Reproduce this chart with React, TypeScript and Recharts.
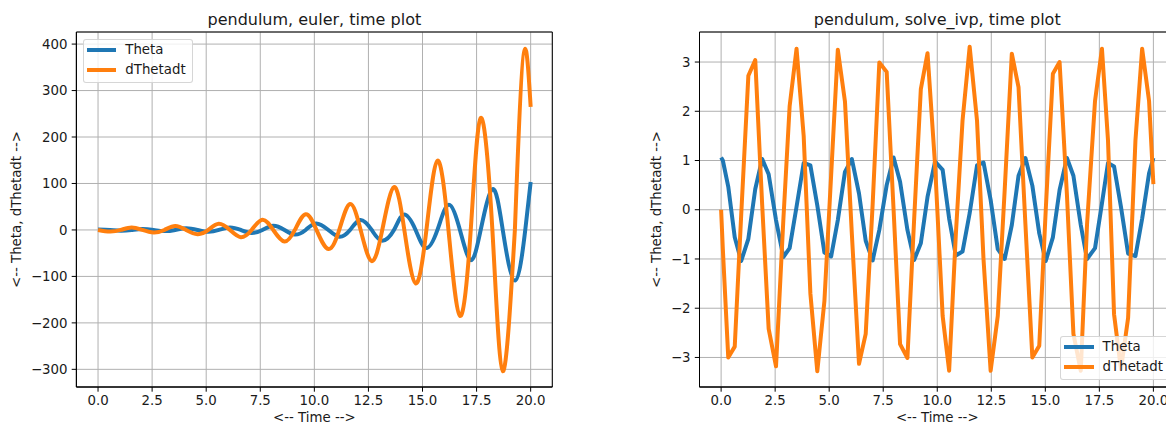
import React from 'react';
import { LineChart, Line, XAxis, YAxis, CartesianGrid, ReferenceArea, Label } from 'recharts';

const BLUE = '#1f77b4';
const ORANGE = '#ff7f0e';
const FONT = '"DejaVu Sans", Verdana, sans-serif';
const TEXT = '#1a1a1a';

// ---------- text ----------
const titles = ['pendulum, euler, time plot', 'pendulum, solve_ivp, time plot'];
const seriesNames = ['Theta', 'dThetadt'];
const xLabel = '<-- Time -->';
const yLabel = '<-- Theta, dThetadt -->';

// ---------- ticks ----------
const xTicks = [0, 2.5, 5, 7.5, 10, 12.5, 15, 17.5, 20];
const eulerYTicks = [-300, -200, -100, 0, 100, 200, 300, 400];
const ivpYTicks = [-3, -2, -1, 0, 1, 2, 3];

// ---------- euler data (extrema and zero crossings) ----------
const eulerThetaT = [0, 0.55, 1.05, 1.55, 2.05, 2.57, 3.07, 3.57, 4.07, 4.6, 5.1, 5.59, 6.1, 6.6, 7.1, 7.6, 8.1, 8.62, 9.1, 9.6, 10.08, 10.65, 11.16, 11.65, 12.13, 12.65, 13.12, 13.68, 14.14, 14.68, 15.16, 15.69, 16.2, 16.73, 17.23, 17.69, 18.24, 18.71, 19.28, 19.75, 20];
const eulerThetaV = [1.05, 0, -1.5, 0, 2.2, 0, -2.5, 0, 3.6, 0, -4, 0, 5.5, 0, -6.5, 0, 9, 0, -10, 0, 14, 0, -14.5, 0, 21.5, 0, -23, 0, 33, 0, -39, 0, 54, 0, -65, 0, 88, 0, -109, 0, 103];
const eulerOmegaT = [0, 0.55, 1.05, 1.55, 2.05, 2.58, 3.07, 3.57, 4.07, 4.6, 5.1, 5.58, 6.1, 6.6, 7.1, 7.6, 8.1, 8.62, 9.1, 9.6, 10.1, 10.65, 11.15, 11.65, 12.14, 12.65, 13.14, 13.68, 14.16, 14.68, 15.18, 15.69, 16.2, 16.73, 17.23, 17.69, 18.23, 18.71, 19.27];
const eulerOmegaV = [0, -3.5, 0, 5.5, 0, -5.5, 0, 8.5, 0, -9, 0, 13.5, 0, -15.5, 0, 22, 0, -25, 0, 34, 0, -41, 0, 56, 0, -67, 0, 92, 0, -115, 0, 149, 0, -185, 0, 241, 0, -304, 0];
// last swing of dThetadt (zero crossing, final peak, end value)
const eulerOmegaEndT = [19.27, 19.75, 20];
const eulerOmegaEndV = [0, 390, 265];

// ---------- solve_ivp data (solver output vertices) ----------
const ivpT = [0, 0.08, 0.33, 0.63, 0.93, 1.26, 1.58, 1.9, 2.2, 2.54, 2.88, 3.17, 3.49, 3.82, 4.13, 4.45, 4.78, 5.09, 5.4, 5.73, 6.05, 6.38, 6.69, 7.01, 7.32, 7.66, 7.98, 8.28, 8.62, 8.93, 9.24, 9.55, 9.9, 10.25, 10.55, 10.86, 11.17, 11.5, 11.84, 12.14, 12.47, 12.8, 13.12, 13.45, 13.76, 14.08, 14.4, 14.72, 15.02, 15.35, 15.66, 16.0, 16.3, 16.64, 16.93, 17.3, 17.62, 17.9, 18.18, 18.5, 18.83, 19.17, 19.48, 19.8, 20.0];
const ivpTheta = [1.06, 1.0, 0.47, -0.56, -1.04, -0.59, 0.42, 1.03, 0.72, -0.21, -0.96, -0.78, 0.06, 0.95, 0.9, 0.09, -0.87, -0.95, -0.21, 0.77, 1.03, 0.33, -0.63, -1.03, -0.41, 0.5, 1.06, 0.57, -0.41, -1.02, -0.68, 0.26, 0.98, 0.81, -0.18, -0.93, -0.85, -0.07, 0.9, 0.96, 0.2, -0.8, -1.0, -0.31, 0.69, 1.05, 0.49, -0.48, -1.04, -0.56, 0.4, 1.05, 0.69, -0.31, -1.0, -0.78, 0.13, 0.95, 0.88, 0.06, -0.89, -0.94, -0.18, 0.74, 1.05];
const ivpOmega = [0, -0.8, -3.0, -2.78, -0.1, 2.72, 3.04, 0.1, -2.42, -3.18, -0.2, 2.1, 3.27, 1.5, -1.7, -3.28, -1.85, 0.7, 3.25, 2.2, -0.5, -3.13, -2.52, 0.1, 2.99, 2.8, 0.0, -2.73, -3.01, -0.2, 2.45, 3.18, 0.9, -2.16, -3.27, -0.5, 1.81, 3.31, 1.81, -1.0, -3.27, -2.16, 0.4, 3.17, 2.49, -0.3, -3.0, -2.76, 0.0, 2.76, 3.0, 0.3, -2.52, -3.27, -0.3, 2.21, 3.27, 1.41, -2.12, -3.24, -2.2, 1.41, 3.27, 2.21, 0.52];

const toPoints = (ts: number[], vs: number[]) => ts.map((t, i) => ({ t, v: vs[i] }));
const eulerTheta = toPoints(eulerThetaT, eulerThetaV);
const eulerOmega = toPoints(eulerOmegaT, eulerOmegaV);
const eulerOmegaEnd = toPoints(eulerOmegaEndT, eulerOmegaEndV);
const ivpData = ivpT.map((t, i) => ({ t, theta: ivpTheta[i], omega: ivpOmega[i] }));

const fmtX = (v: number) => v.toFixed(1);
const fmtY = (v: number) => (v < 0 ? '\u2212' + Math.abs(v) : String(v));
const tickStyle = { fontFamily: FONT, fontSize: 13.33, fill: TEXT };

const PLOT_TOP = 32;
const PLOT_BOTTOM = 387;
const CHART_H = 425;

type PanelProps = {
  left: number;
  width: number;
  plotLeft: number;
  plotRight: number;
  yDomain: [number, number];
  yTicks: number[];
  yLabelX: number;
  data?: any[];
  children: React.ReactNode;
};

function Panel(p: PanelProps) {
  const cx = (p.plotLeft + p.plotRight) / 2;
  const cy = (PLOT_TOP + PLOT_BOTTOM) / 2;
  return (
    <div style={{ position: 'absolute', left: p.left, top: 0, width: p.width, height: CHART_H }}>
      <LineChart
        width={p.width}
        height={CHART_H}
        data={p.data}
        margin={{ top: PLOT_TOP, right: p.width - p.plotRight, bottom: 0, left: 0 }}
      >
        <CartesianGrid stroke="#b0b0b0" strokeWidth={1} />
        <XAxis
          type="number"
          dataKey="t"
          domain={[-1, 21]}
          ticks={xTicks}
          interval={0}
          tickFormatter={fmtX}
          allowDataOverflow
          height={CHART_H - PLOT_BOTTOM}
          stroke="#000"
          tick={tickStyle}
          tickSize={4.7}
          tickMargin={4.2}
        >
          <Label
            content={() => (
              <text x={cx} y={422} textAnchor="middle" fontFamily={FONT} fontSize={13.33} fill={TEXT}>
                {xLabel}
              </text>
            )}
          />
        </XAxis>
        <YAxis
          type="number"
          domain={p.yDomain}
          ticks={p.yTicks}
          interval={0}
          tickFormatter={fmtY}
          allowDataOverflow
          width={p.plotLeft}
          stroke="#000"
          tick={tickStyle}
          tickSize={4.7}
          tickMargin={4.2}
        >
          <Label
            content={() => (
              <text
                x={p.yLabelX}
                y={cy}
                transform={`rotate(-90, ${p.yLabelX}, ${cy})`}
                textAnchor="middle"
                fontFamily={FONT}
                fontSize={13.33}
                fill={TEXT}
              >
                {yLabel}
              </text>
            )}
          />
        </YAxis>
        {p.children}
        <ReferenceArea
          x1={-1}
          x2={21}
          y1={p.yDomain[0]}
          y2={p.yDomain[1]}
          fill="none"
          fillOpacity={0}
          stroke="#000"
          strokeWidth={1}
          ifOverflow="visible"
        />
      </LineChart>
    </div>
  );
}

function LegendBox({ left, top }: { left: number; top: number }) {
  const colors = [BLUE, ORANGE];
  return (
    <div
      style={{
        position: 'absolute',
        left,
        top,
        width: 110,
        height: 44,
        boxSizing: 'border-box',
        background: 'rgba(255,255,255,0.8)',
        border: '1px solid rgba(204,204,204,0.8)',
        borderRadius: 3,
        fontFamily: FONT,
        fontSize: 13.33,
        color: TEXT,
      }}
    >
      {seriesNames.map((name, i) => (
        <React.Fragment key={name}>
          <div
            style={{
              position: 'absolute',
              left: 3,
              top: 8 + i * 20,
              width: 29.5,
              height: 4,
              background: colors[i],
            }}
          />
          <div
            style={{
              position: 'absolute',
              left: 41.6,
              top: 2 + i * 20,
              lineHeight: '16px',
              whiteSpace: 'nowrap',
            }}
          >
            {name}
          </div>
        </React.Fragment>
      ))}
    </div>
  );
}

const lineProps = {
  strokeWidth: 4,
  dot: false,
  activeDot: false,
  isAnimationActive: false,
  strokeLinejoin: 'round' as const,
};

export default function App() {
  return (
    <div
      style={{
        position: 'absolute',
        left: 0,
        top: 0,
        width: 1166,
        height: 425,
        overflow: 'hidden',
        background: '#fff',
      }}
    >
      <Panel left={0} width={580} plotLeft={76.4} plotRight={552.3} yDomain={[-338, 426]} yTicks={eulerYTicks} yLabelX={20.7}>
        <Line data={eulerTheta} dataKey="v" type="natural" stroke={BLUE} {...lineProps} />
        <Line data={eulerOmega} dataKey="v" type="natural" stroke={ORANGE} {...lineProps} />
        <Line data={eulerOmegaEnd} dataKey="v" type="monotone" stroke={ORANGE} {...lineProps} />
      </Panel>
      <Panel left={580} width={620} plotLeft={119.5} plotRight={595} yDomain={[-3.6, 3.61]} yTicks={ivpYTicks} yLabelX={80.5} data={ivpData}>
        <Line dataKey="theta" type="linear" stroke={BLUE} {...lineProps} />
        <Line dataKey="omega" type="linear" stroke={ORANGE} {...lineProps} />
      </Panel>
      <svg width={1166} height={425} style={{ position: 'absolute', left: 0, top: 0, pointerEvents: 'none' }}>
        <text x={314.35} y={24.5} textAnchor="middle" fontFamily={FONT} fontSize={16} fill={TEXT}>
          {titles[0]}
        </text>
        <text x={937.25} y={24.5} textAnchor="middle" fontFamily={FONT} fontSize={16} fill={TEXT}>
          {titles[1]}
        </text>
      </svg>
      <LegendBox left={82.7} top={39} />
      <LegendBox left={1060} top={336} />
    </div>
  );
}
